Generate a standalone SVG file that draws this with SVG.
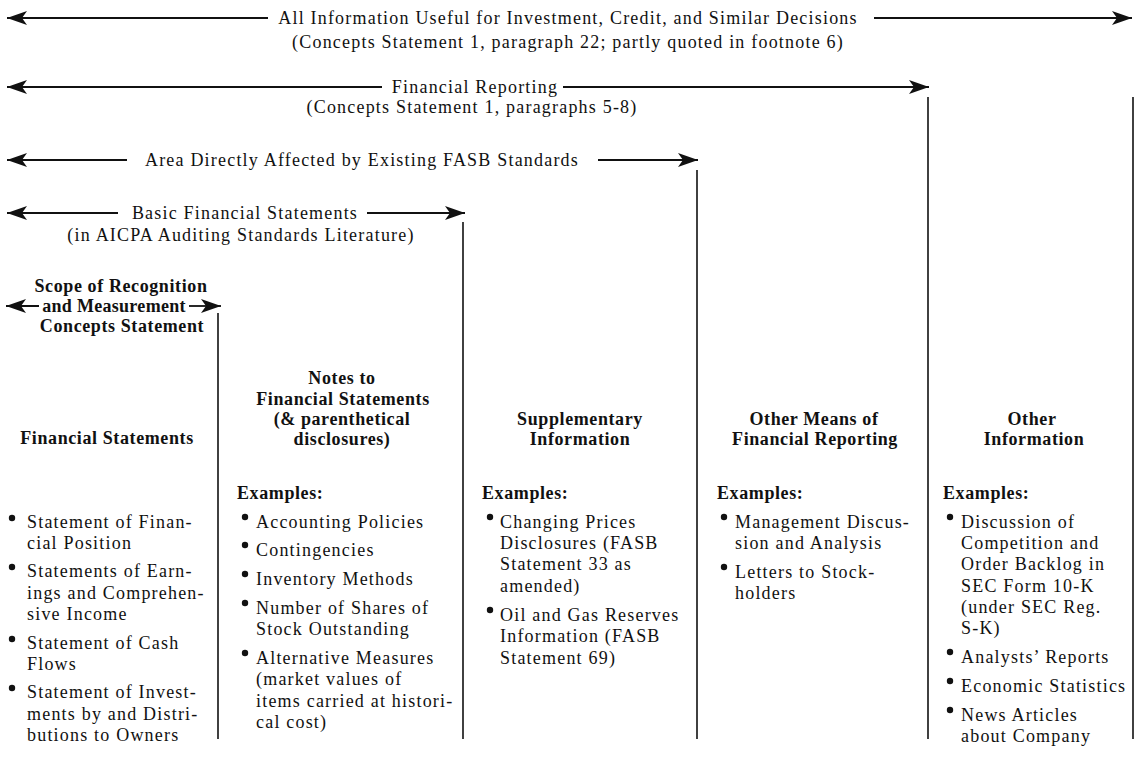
<svg xmlns="http://www.w3.org/2000/svg" width="1137" height="764" viewBox="0 0 1137 764">
<defs>
<marker id="ah" markerUnits="userSpaceOnUse" viewBox="-22 -8 23 16" markerWidth="23" markerHeight="16" refX="0" refY="0" orient="auto" overflow="visible">
<path d="M0,0 L-20,-7 L-15,0 L-20,7 Z" fill="#111"/>
</marker>
<style>
text{font-family:"Liberation Serif","Times New Roman",serif;font-size:18px;letter-spacing:1.2px;fill:#111}
.b{font-weight:bold;letter-spacing:0.6px}
.c{text-anchor:middle}
.ar{stroke:#111;stroke-width:1.8;fill:none;marker-end:url(#ah)}
.vl{stroke:#111;stroke-width:1.6;fill:none}
.dot{fill:#111}
</style>
</defs>
<rect width="1137" height="764" fill="#fff"/>
<g id="connectors">
<line class="ar" x1="268" y1="18" x2="7" y2="18"/>
<line class="ar" x1="874" y1="18" x2="1132" y2="18"/>
<line class="ar" x1="382" y1="87" x2="7" y2="87"/>
<line class="ar" x1="563" y1="87" x2="929" y2="87"/>
<line class="ar" x1="127" y1="160" x2="7" y2="160"/>
<line class="ar" x1="598" y1="160" x2="698" y2="160"/>
<line class="ar" x1="118" y1="213" x2="7" y2="213"/>
<line class="ar" x1="367" y1="213" x2="465" y2="213"/>
<line class="ar" x1="39" y1="306" x2="6" y2="306"/>
<line class="ar" x1="189" y1="306" x2="221" y2="306"/>
<line class="vl" x1="218" y1="313" x2="218" y2="739"/>
<line class="vl" x1="463" y1="222" x2="463" y2="739"/>
<line class="vl" x1="697" y1="170" x2="697" y2="739"/>
<line class="vl" x1="928" y1="97" x2="928" y2="739"/>
<line class="vl" x1="1133" y1="97" x2="1133" y2="739"/>
</g>
<g id="all-information">
<text class="c" x="568" y="24">All Information Useful for Investment, Credit, and Similar Decisions</text>
<text class="c" x="568" y="48">(Concepts Statement 1, paragraph 22; partly quoted in footnote 6)</text>
</g>
<g id="financial-reporting">
<text class="c" x="475" y="93">Financial Reporting</text>
<text class="c" x="472" y="113">(Concepts Statement 1, paragraphs 5-8)</text>
</g>
<g id="fasb-area">
<text class="c" x="362" y="166">Area Directly Affected by Existing FASB Standards</text>
</g>
<g id="basic-fs">
<text class="c" x="245" y="219">Basic Financial Statements</text>
<text class="c" x="241" y="241">(in AICPA Auditing Standards Literature)</text>
</g>
<g id="scope">
<text class="c b" x="121" y="292">Scope of Recognition</text>
<text class="c b" x="114" y="312" style="letter-spacing:0.3px">and Measurement</text>
<text class="c b" x="122" y="332">Concepts Statement</text>
</g>
<g id="financial-statements">
<text class="c b" x="107" y="444">Financial Statements</text>
<circle class="dot" cx="12" cy="518" r="3.2"/>
<text x="27" y="528">Statement of Finan-</text>
<text x="27" y="549">cial Position</text>
<circle class="dot" cx="12" cy="567" r="3.2"/>
<text x="27" y="577">Statements of Earn-</text>
<text x="27" y="599">ings and Comprehen-</text>
<text x="27" y="620">sive Income</text>
<circle class="dot" cx="12" cy="639" r="3.2"/>
<text x="27" y="649">Statement of Cash</text>
<text x="27" y="670">Flows</text>
<circle class="dot" cx="12" cy="688" r="3.2"/>
<text x="27" y="698">Statement of Invest-</text>
<text x="27" y="720">ments by and Distri-</text>
<text x="27" y="741">butions to Owners</text>
</g>
<g id="notes">
<text class="c b" x="342" y="384">Notes to</text>
<text class="c b" x="343" y="405">Financial Statements</text>
<text class="c b" x="342" y="425">(&amp; parenthetical</text>
<text class="c b" x="342" y="445">disclosures)</text>
<text class="b" x="237" y="499">Examples:</text>
<circle class="dot" cx="245" cy="517" r="3.2"/>
<text x="256" y="528">Accounting Policies</text>
<circle class="dot" cx="245" cy="545" r="3.2"/>
<text x="256" y="556">Contingencies</text>
<circle class="dot" cx="245" cy="574" r="3.2"/>
<text x="256" y="585">Inventory Methods</text>
<circle class="dot" cx="245" cy="603" r="3.2"/>
<text x="256" y="614">Number of Shares of</text>
<text x="256" y="635">Stock Outstanding</text>
<circle class="dot" cx="245" cy="653" r="3.2"/>
<text x="256" y="664">Alternative Measures</text>
<text x="256" y="685">(market values of</text>
<text x="256" y="707">items carried at histori-</text>
<text x="256" y="728">cal cost)</text>
</g>
<g id="supplementary">
<text class="c b" x="580" y="425">Supplementary</text>
<text class="c b" x="580" y="445">Information</text>
<text class="b" x="482" y="499">Examples:</text>
<circle class="dot" cx="490" cy="517" r="3.2"/>
<text x="500" y="528">Changing Prices</text>
<text x="500" y="549">Disclosures (FASB</text>
<text x="500" y="570">Statement 33 as</text>
<text x="500" y="592">amended)</text>
<circle class="dot" cx="490" cy="610" r="3.2"/>
<text x="500" y="621">Oil and Gas Reserves</text>
<text x="500" y="642">Information (FASB</text>
<text x="500" y="664">Statement 69)</text>
</g>
<g id="other-means">
<text class="c b" x="814" y="425">Other Means of</text>
<text class="c b" x="815" y="445">Financial Reporting</text>
<text class="b" x="717" y="499">Examples:</text>
<circle class="dot" cx="724" cy="517" r="3.2"/>
<text x="735" y="528">Management Discus-</text>
<text x="735" y="549">sion and Analysis</text>
<circle class="dot" cx="724" cy="567" r="3.2"/>
<text x="735" y="578">Letters to Stock-</text>
<text x="735" y="599">holders</text>
</g>
<g id="other-information">
<text class="c b" x="1032" y="425">Other</text>
<text class="c b" x="1034" y="445">Information</text>
<text class="b" x="943" y="499">Examples:</text>
<circle class="dot" cx="950" cy="517" r="3.2"/>
<text x="961" y="528">Discussion of</text>
<text x="961" y="549">Competition and</text>
<text x="961" y="570">Order Backlog in</text>
<text x="961" y="592">SEC Form 10-K</text>
<text x="961" y="613">(under SEC Reg.</text>
<text x="961" y="634">S-K)</text>
<circle class="dot" cx="950" cy="652" r="3.2"/>
<text x="961" y="663">Analysts’ Reports</text>
<circle class="dot" cx="950" cy="681" r="3.2"/>
<text x="961" y="692">Economic Statistics</text>
<circle class="dot" cx="950" cy="710" r="3.2"/>
<text x="961" y="721">News Articles</text>
<text x="961" y="742">about Company</text>
</g>
</svg>
